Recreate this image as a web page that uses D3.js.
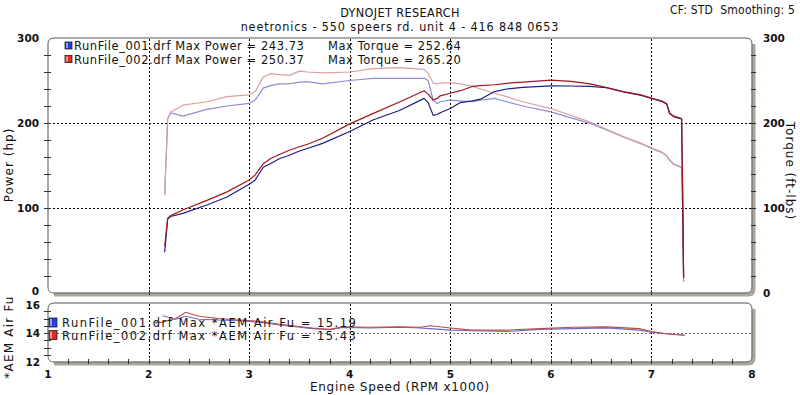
<!DOCTYPE html>
<html><head><meta charset="utf-8">
<script src="https://cdn.jsdelivr.net/npm/d3@7/dist/d3.min.js"></script>
<style>
body{margin:0;background:#fff;}
svg{display:block;}
text{font-family:"DejaVu Sans",Verdana,sans-serif;fill:#111;white-space:pre;}
</style></head><body>
<svg id="c" width="800" height="395"></svg>
<script>
// ---------- DATA ----------
const rpm = [2.16,2.19,2.22,2.34,2.58,2.78,3.0,3.06,3.14,3.21,3.3,3.4,3.5,3.58,3.73,4.0,4.23,4.5,4.74,4.78,4.83,4.87,4.9,5.0,5.1,5.22,5.3,5.44,5.56,5.72,6.0,6.2,6.39,6.55,6.72,6.9,7.01,7.1,7.15,7.18,7.22,7.28,7.3,7.31,7.32];
const run1Power  = [48,87,90,93.7,103.5,113,128,133,148,152,158,162,167,170,176,190,203.5,215,229,224,209,210,212,217,224,226,228,237,240,242,243.7,243.5,243,241.5,236.5,232.5,228.5,225.5,222.5,211.5,207.5,205.5,204.5,120,18];
const run1Torque = [115,205,212,208,216,220,223,227,241,244,246,246,248,248.6,246,250,252.5,252.5,252.6,250,227,223,225,227,226,225,227,229,225,220,213,206,199.6,192,183.5,175.5,169.5,165.5,161.5,156,151.5,148.5,147.5,98,13];
const run2Power  = [55,88,91,97.6,109,119,133,139,152,158,163,168,172,175,182,199,211,225,238,234,227,229,232,235,238,243,244,245,246.7,248,250.4,249,246,242,237,233,229,226,223,212,208,206,205,121,19];
const run2Torque = [115,205,213,221,225,231,233,237,254,258,257,256,261,260,259,260,264,265.2,263,258,247,246,247,247.5,246,243,240,235,231,225,217,209,201,193,184,176,170,166,162,157,152,149,148,100,14];

const afrRpm = [2.06,2.14,2.27,2.37,2.5,2.7,2.9,3.1,3.3,3.5,3.63,3.8,3.93,4.2,4.5,4.7,4.8,5.0,5.22,5.56,5.89,6.22,6.56,6.88,7.0,7.15,7.33];
const run1Afr = [null,15.19,14.95,15.15,14.95,14.9,14.85,14.75,14.55,14.4,14.3,14.22,14.38,14.35,14.4,14.35,14.3,14.2,14.15,14.1,14.25,14.3,14.35,14.2,14.05,13.95,13.85];
const run2Afr = [14.7,14.75,15.0,15.43,15.15,15.0,14.9,14.8,14.6,14.45,14.35,14.25,14.42,14.4,14.42,14.4,14.5,14.35,14.2,14.2,14.3,14.4,14.42,14.3,14.1,13.95,13.85];

const xTicks = [1,2,3,4,5,6,7,8];
const mainTicks = [0,100,200,300];
const afrTicks = [12,14,16];
const legendMain = [
  {name:"RunFile_001.drf", power:"243.73", torque:"252.64", color:"#2a3ee0"},
  {name:"RunFile_002.drf", power:"250.37", torque:"265.20", color:"#e02a2a"}
];
const legendAfr = [
  {name:"RunFile_001.drf", afr:"15.19", color:"#2a3ee0"},
  {name:"RunFile_002.drf", afr:"15.43", color:"#e02a2a"}
];

// ---------- SCALES ----------
const svg = d3.select("#c");
const x = d3.scaleLinear().domain([1,8]).range([48,752]);
const y = d3.scaleLinear().domain([0,300]).range([293,38]);
const ya = d3.scaleLinear().domain([12,16]).range([362,304]);
const frameGray = "#a9a79c";
const cond = "'DejaVu Sans Condensed','DejaVu Sans',sans-serif";

// ---------- TITLES ----------
svg.append("text").attr("x",400).attr("y",17).attr("text-anchor","middle")
  .style("font-family",cond).style("font-size","12.5px").style("letter-spacing","0.4px").text("DYNOJET RESEARCH");
svg.append("text").attr("x",400).attr("y",31).attr("text-anchor","middle")
  .style("font-family",cond).style("font-size","12.5px").style("letter-spacing","0.85px").text("neetronics - 550 speers rd. unit 4 - 416 848 0653");
svg.append("text").attr("x",795).attr("y",14).attr("text-anchor","end")
  .style("font-family",cond).style("font-size","12px").style("letter-spacing","0.2px").text("CF: STD  Smoothing: 5");

// ---------- PANEL FRAMES ----------
function frame(x0,x1,y0,y1){
  const r=6;
  svg.append("path").attr("d",`M${x1+1.5},${y0+r} L${x1+1.5},${y1-r+2} Q${x1+1.5},${y1+1.5} ${x1-r+2},${y1+1.5} L${x0+r},${y1+1.5}`)
    .attr("fill","none").attr("stroke",frameGray).attr("stroke-width",4);
  svg.append("path").attr("d",`M${x0},${y1-r} L${x0},${y0+r} Q${x0},${y0} ${x0+r},${y0} L${x1-r},${y0} Q${x1},${y0} ${x1},${y0+r}`)
    .attr("fill","none").attr("stroke","#555").attr("stroke-width",1);
  svg.append("path").attr("d",`M${x1},${y0+r} L${x1},${y1-r} Q${x1},${y1} ${x1-r},${y1} L${x0+r},${y1} Q${x0},${y1} ${x0},${y1-r}`)
    .attr("fill","none").attr("stroke","#666").attr("stroke-width",1);
}
frame(x(1),x(8),y(300),y(0));
frame(x(1),x(8),ya(16)-1,ya(12));

// ---------- GRIDLINES ----------
const grid = svg.append("g").attr("stroke","#000").attr("stroke-dasharray","2,2").attr("stroke-width",1);
xTicks.slice(1,-1).forEach(t=>{
  grid.append("line").attr("x1",Math.round(x(t))+0.5).attr("x2",Math.round(x(t))+0.5).attr("y1",y(300)+1).attr("y2",y(0)-1);
  grid.append("line").attr("x1",Math.round(x(t))+0.5).attr("x2",Math.round(x(t))+0.5).attr("y1",ya(16)).attr("y2",ya(12)-1);
});
[100,200].forEach(v=>{
  grid.append("line").attr("x1",x(1)+1).attr("x2",x(8)).attr("y1",Math.round(y(v))+0.5).attr("y2",Math.round(y(v))+0.5);
});
svg.append("line").attr("x1",x(1)+1).attr("x2",x(8)).attr("y1",Math.round(ya(14))+0.5).attr("y2",Math.round(ya(14))+0.5)
  .attr("stroke","#777").attr("stroke-dasharray","2,2");

// ---------- AXIS TICKS ----------
const tk = svg.append("g").attr("stroke","#333").attr("stroke-width",1);
d3.range(0,301,20).forEach(v=>{
  const yy=Math.round(y(v))+0.5;
  if(v>0 && v<300) tk.append("line").attr("x1",x(1)-4).attr("x2",x(1)+3).attr("y1",yy).attr("y2",yy);
  if(v>0 && v<300) tk.append("line").attr("x1",x(8)-1).attr("x2",x(8)+4).attr("y1",yy).attr("y2",yy);
});
d3.range(12,16.01,0.5).forEach(v=>{
  const yy=Math.round(ya(v))+0.5;
  if(v>12 && v<16) tk.append("line").attr("x1",x(1)-4).attr("x2",x(1)+3).attr("y1",yy).attr("y2",yy);
});
d3.range(1.2,7.9,0.2).forEach(v=>{
  const xx=Math.round(x(v))+0.5;
  tk.append("line").attr("x1",xx).attr("x2",xx).attr("y1",ya(12)-3).attr("y2",ya(12)+2);
});
xTicks.slice(1,-1).forEach(v=>{
  const xx=Math.round(x(v))+0.5;
  tk.append("line").attr("x1",xx).attr("x2",xx).attr("y1",y(0)-3).attr("y2",y(0)+2);
});

// ---------- TICK LABELS ----------
const lblStyle = s=>s.style("font-size","10.5px").style("font-weight","bold");
mainTicks.forEach(v=>{
  svg.append("text").attr("x",39).attr("y",y(v)+(v===0?2:4)).attr("text-anchor","end").call(lblStyle).text(v);
  svg.append("text").attr("x",763).attr("y",y(v)+4).attr("text-anchor","start").call(lblStyle).text(v);
});
afrTicks.forEach(v=>{
  svg.append("text").attr("x",40).attr("y",ya(v)+(v===16?5:4)).attr("text-anchor","end").call(lblStyle).text(v);
});
xTicks.forEach(v=>{
  svg.append("text").attr("x",x(v)).attr("y",378).attr("text-anchor","middle").call(lblStyle).text(v);
});

// ---------- AXIS TITLES ----------
svg.append("text").attr("transform","translate(13,165) rotate(-90)").attr("text-anchor","middle")
  .style("font-size","12px").style("letter-spacing","1px").text("Power (hp)");
svg.append("text").attr("transform","translate(786,171) rotate(90)").attr("text-anchor","middle")
  .style("font-size","12px").style("letter-spacing","1px").text("Torque (ft-lbs)");
svg.append("text").attr("transform","translate(13,337) rotate(-90)").attr("text-anchor","middle")
  .style("font-size","12px").style("letter-spacing","1.2px").text("*AEM Air Fu");
svg.append("text").attr("x",400).attr("y",391).attr("text-anchor","middle")
  .style("font-size","12px").style("letter-spacing","0.7px").text("Engine Speed (RPM x1000)");

// ---------- CURVES ----------
svg.append("clipPath").attr("id","cm").append("rect").attr("x",x(1)+1).attr("y",y(300)+1).attr("width",x(8)-x(1)-2).attr("height",y(0)-y(300)-2);
const gm = svg.append("g").attr("clip-path","url(#cm)");
const mkLine = vals => d3.line().x((d,i)=>x(rpm[i])).y(d=>y(d))(vals);
const series = [
  {v:run1Torque, c:"#8e8fd6"},
  {v:run2Torque, c:"#dca0a0"},
  {v:run1Power,  c:"#1c1c86"},
  {v:run2Power,  c:"#a3161c"}
];
series.forEach(s=>{
  gm.append("path").attr("d",mkLine(s.v)).attr("fill","none").attr("stroke",s.c).attr("stroke-width",1.2).attr("stroke-linejoin","round");
});
const afrLine = d3.line().defined(d=>d!=null).x((d,i)=>x(afrRpm[i])).y(d=>ya(d));
svg.append("path").attr("d",afrLine(run1Afr)).attr("fill","none").attr("stroke","#6a6ac8").attr("stroke-width",1.1);
svg.append("path").attr("d",afrLine(run2Afr)).attr("fill","none").attr("stroke","#c04a4a").attr("stroke-width",1.1);

// ---------- LEGENDS ----------
const legFont = s=>s.style("font-size","11.5px").style("letter-spacing","0.55px");
function swatch(xx,yy,w,h,c){
  const g=svg.append("g");
  g.append("rect").attr("x",xx).attr("y",yy).attr("width",w).attr("height",h).attr("fill",c).attr("stroke","#222").attr("stroke-width",0.8);
  g.append("rect").attr("x",xx+1).attr("y",yy+1).attr("width",2).attr("height",h-2).attr("fill","#fff").attr("opacity",0.5);
}
legendMain.forEach((d,i)=>{
  const yy=50+i*13.5;
  swatch(65,yy-8,7,7,d.color);
  svg.append("text").attr("x",74).attr("y",yy).call(legFont).text(`${d.name} Max Power = ${d.power}`);
  svg.append("text").attr("x",328).attr("y",yy).call(legFont).text(`Max Torque = ${d.torque}`);
});
legendAfr.forEach((d,i)=>{
  const yy=327+i*12.5;
  swatch(49,yy-9,8,9,d.color);
  svg.append("text").attr("x",62).attr("y",yy).style("font-size","11.5px").style("letter-spacing","1.5px")
    .text(`${d.name} Max *AEM Air Fu = ${d.afr}`);
});
</script></body></html>
